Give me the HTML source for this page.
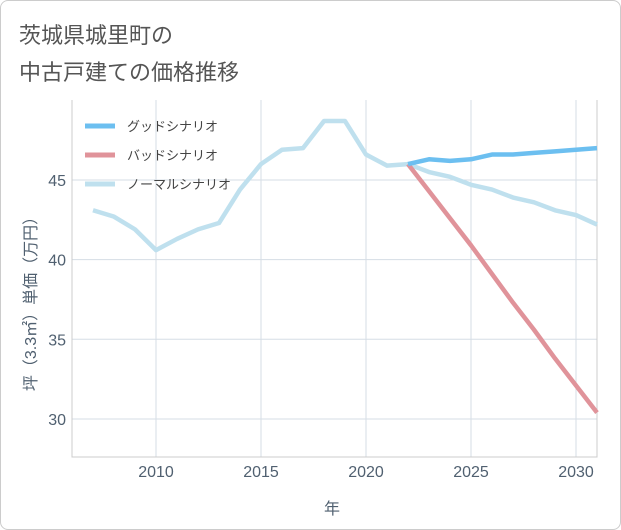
<!DOCTYPE html>
<html><head><meta charset="utf-8"><style>
body{margin:0;background:#fff;}
#wrap{position:relative;width:619px;height:528px;border:1px solid #ccc;border-radius:8px;overflow:hidden;font-family:"Liberation Sans","Noto Sans CJK JP",sans-serif;}
.title{position:absolute;left:18px;font-size:22px;color:#555;}
</style></head><body>
<div id="wrap">
<div class="title" style="top:17px">茨城県城里町の</div>
<div class="title" style="top:54px">中古戸建ての価格推移</div>
<svg id="chart" width="621" height="530" style="position:absolute;left:-1px;top:-1px"></svg>
</div>
<script>
const normalYears=[2007,2008,2009,2010,2011,2012,2013,2014,2015,2016,2017,2018,2019,2020,2021,2022,2023,2024,2025,2026,2027,2028,2029,2030,2031];
const normalVals=[43.1,42.7,41.9,40.6,41.3,41.9,42.3,44.4,46.0,46.9,47.0,48.7,48.7,46.6,45.9,46.0,45.5,45.2,44.7,44.4,43.9,43.6,43.1,42.8,42.2];
const futureYears=[2022,2023,2024,2025,2026,2027,2028,2029,2030,2031];
const goodVals=[46.0,46.3,46.2,46.3,46.6,46.6,46.7,46.8,46.9,47.0];
const badVals=[46.0,44.3,42.6,40.9,39.1,37.3,35.6,33.8,32.1,30.4];
const xTicks=[2010,2015,2020,2025,2030];
const yTicks=[30,35,40,45];
const NS='http://www.w3.org/2000/svg';
const svg=document.getElementById('chart');
const L=72,R=597,T=100,B=457;
const X=y=>156+(y-2010)*21;
const Y=v=>180+(45-v)*15.93;
function mk(t,a){const e=document.createElementNS(NS,t);for(const k in a)e.setAttribute(k,a[k]);svg.appendChild(e);return e;}
xTicks.forEach(t=>{
 const g=mk('line',{x1:X(t),x2:X(t),y1:T,y2:B,stroke:'#d5dde5'});
 
 
 const l=mk('text',{x:X(t),y:477,'text-anchor':'middle','font-size':16,fill:'#506070'});l.textContent=t;
 
 
});
yTicks.forEach(t=>{
 const g=mk('line',{x1:L,x2:R,y1:Y(t),y2:Y(t),stroke:'#d5dde5'});
 
 
 const l=mk('text',{x:66,y:Y(t)+6,'text-anchor':'end','font-size':16,fill:'#506070'});l.textContent=t;
 
 
});
const ax=mk('path',{d:`M${L} ${T}V${B}H${R}V${T}`,fill:'none',stroke:'#ccc'});


function line(xs,vs,c,n){const p=mk('polyline',{points:xs.map((x,i)=>X(x)+','+Y(vs[i])).join(' '),fill:'none',stroke:c,'stroke-width':4.5,'stroke-linejoin':'round'});
 
 }
line(normalYears,normalVals,'#bfe0ee','normal-scenario-line');
line(futureYears,badVals,'#e0939a','bad-scenario-line');
line(futureYears,goodVals,'#6cbff0','good-scenario-line');
const leg=[['グッドシナリオ','#6cbff0'],['バッドシナリオ','#e0939a'],['ノーマルシナリオ','#bfe0ee']];
leg.forEach((d,i)=>{const y=126+i*29;
 const l=mk('line',{x1:85,x2:115,y1:y,y2:y,stroke:d[1],'stroke-width':5});
 
 
 const t=mk('text',{x:127,y:y+5,'font-size':13,fill:'#444'});t.textContent=d[0];
 
 
});
const xt=mk('text',{x:332,y:514,'text-anchor':'middle','font-size':16,fill:'#506070'});xt.textContent='年';


const yt=mk('text',{x:0,y:0,'text-anchor':'middle','font-size':16,fill:'#506070',transform:'translate(36,300) rotate(-90)'});yt.textContent='坪（3.3㎡）単価（万円）';


</script>
</body></html>
